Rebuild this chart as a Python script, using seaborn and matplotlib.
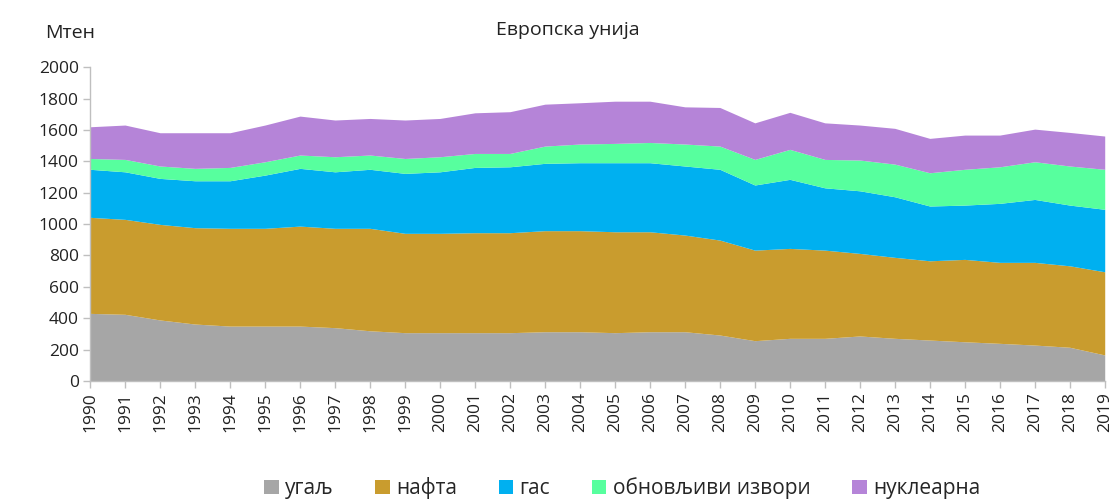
import matplotlib
matplotlib.use("Agg")
import matplotlib.pyplot as plt
import seaborn as sns
import numpy as np
from matplotlib.patches import Patch

years = list(range(1990, 2020))
coal = [431, 425, 389, 363, 350, 350, 350, 340, 320, 308, 308, 308, 308, 314, 314,
        308, 314, 314, 293, 257, 272, 272, 287, 272, 261, 250, 240, 229, 215, 166]
oil = [612, 605, 609, 614, 623, 623, 637, 633, 653, 633, 633, 637, 637, 644, 644,
       643, 637, 616, 605, 577, 573, 562, 526, 516, 505, 525, 516, 527, 519, 530]
gas = [306, 303, 293, 299, 303, 339, 368, 360, 376, 382, 392, 416, 420, 429, 433,
       440, 440, 440, 451, 415, 440, 397, 399, 386, 349, 346, 376, 401, 387, 398]
renew = [69, 79, 79, 79, 85, 85, 85, 96, 91, 95, 96, 89, 85, 110, 119,
         123, 129, 140, 148, 163, 191, 181, 196, 208, 212, 228, 233, 240, 249, 255]
nuclear = [202, 219, 212, 227, 221, 234, 248, 234, 233, 245, 244, 259, 266, 267, 263,
           269, 263, 237, 246, 233, 236, 233, 223, 228, 219, 218, 202, 208, 214, 212]

labels = ["угаљ", "нафта", "гас", "обновљиви извори", "нуклеарна"]
colors = ["#A6A6A6", "#C99C2E", "#00B0F0", "#57FF9E", "#B584D8"]
yticks = list(range(0, 2001, 200))

sns.set_theme(style="white")
plt.rcParams['font.family'] = ['Open Sans', 'DejaVu Sans']

fig = plt.figure(figsize=(11.17, 5.01), dpi=100)
ax = fig.add_axes([0.0806, 0.2395, 0.9084, 0.6265])

ax.stackplot(years, coal, oil, gas, renew, nuclear, colors=colors, labels=labels, linewidth=0)

ax.set_xlim(1990, 2019)
ax.set_ylim(0, 2000)
ax.set_yticks(yticks)
ax.set_xticks(years)
ax.set_xticklabels([str(y) for y in years], rotation=90, fontsize=12.5, color="#222222")
ax.set_yticklabels([str(v) for v in yticks], fontsize=12.5, color="#222222")

for s in ["top", "right"]:
    ax.spines[s].set_visible(False)
for s in ["left", "bottom"]:
    ax.spines[s].set_color("#BFBFBF")
    ax.spines[s].set_linewidth(1.0)
ax.tick_params(axis="both", which="both", direction="out", length=5, width=1,
               color="#BFBFBF", left=True, bottom=True, pad=3)

fig.text(0.508, 0.94, "Европска унија", ha="center", va="center", fontsize=14, color="#222222")
fig.text(0.063, 0.935, "Мтен", ha="center", va="center", fontsize=14, color="#222222")

handles = [Patch(facecolor=c, edgecolor="none") for c in colors]
fig.legend(handles, labels, loc="center", bbox_to_anchor=(0.557, 0.025), ncol=5, frameon=False,
           fontsize=15, handlelength=0.7, handleheight=0.7, handletextpad=0.3, columnspacing=2.0)

fig.savefig("out.png", dpi=100)
